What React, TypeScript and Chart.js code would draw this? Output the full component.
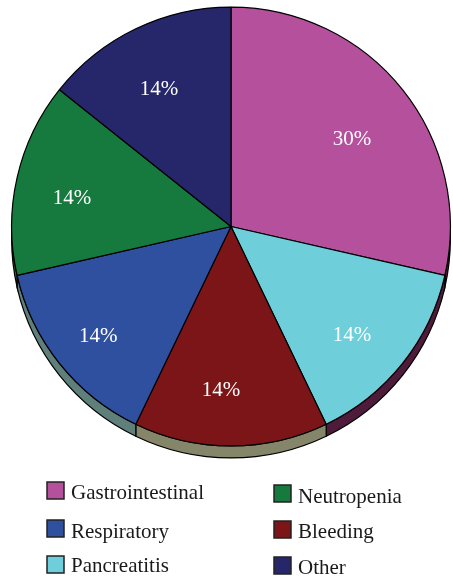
import React, { useEffect, useRef } from "react";
import { Chart, registerables } from "chart.js";

Chart.register(...registerables);

// Slice order, clockwise from 12 o'clock
const categories = ["Gastrointestinal", "Pancreatitis", "Bleeding", "Respiratory", "Neutropenia", "Other"];
// Relative slice sizes (as measured from the slice angles in the picture)
const values = [6, 3, 3, 3, 3, 3];
// Percent labels printed on the slices
const percentLabels = ["30%", "14%", "14%", "14%", "14%", "14%"];

const colors = ["#b5509c", "#6ecfdb", "#7c1517", "#2f4f9f", "#167a3f", "#26266b"];
const sideColors = ["#4f1b3b", "#4f1b3b", "#85856a", "#5f7f7b", "#3b5b3b", "#1c1c44"];
// Label placement: distance from centre as fraction of radius, angular nudge (deg) from slice middle
const labelRadius = [0.682, 0.737, 0.742, 0.781, 0.738, 0.71];
const labelAngleNudge = [2.5, 3.0, 3.5, -0.7, -2.2, -1.8];

// Legend layout: [category index, box x, box y, text x, baseline y]
const legendItems: [number, number, number, number, number][] = [
  [0, 47, 482, 71, 499],
  [3, 47, 520, 71, 538],
  [1, 47, 556, 71, 572],
  [4, 274, 485, 298, 503],
  [2, 274, 521, 298, 538],
  [5, 274, 557, 298, 574],
];

const DEPTH = 12;
const SERIF = "'Liberation Serif', 'DejaVu Serif', serif";

const extrudePlugin = {
  id: "extrude",
  beforeDatasetsDraw(chart: any) {
    const ctx = chart.ctx;
    const meta = chart.getDatasetMeta(0);
    meta.data.forEach((arc: any, i: number) => {
      const { x, y, startAngle, endAngle, outerRadius } = arc.getProps(
        ["x", "y", "startAngle", "endAngle", "outerRadius"],
        true
      );
      const norm = (a: number) => {
        let v = a % (Math.PI * 2);
        if (v < -1e-9) v += Math.PI * 2;
        return v;
      };
      const s = norm(startAngle);
      const e = s + (endAngle - startAngle);
      const segs: [number, number][] = [];
      for (const shift of [0, -Math.PI * 2]) {
        const a0 = Math.max(s + shift, 0);
        const a1 = Math.min(e + shift, Math.PI);
        if (a1 > a0) segs.push([a0, a1]);
      }
      segs.forEach(([a0, a1]) => {
        const r = outerRadius;
        ctx.save();
        ctx.beginPath();
        ctx.arc(x, y, r, a0, a1);
        ctx.lineTo(x + r * Math.cos(a1), y + DEPTH + r * Math.sin(a1));
        ctx.arc(x, y + DEPTH, r, a1, a0, true);
        ctx.closePath();
        ctx.fillStyle = sideColors[i];
        ctx.fill();
        ctx.lineWidth = 1.2;
        ctx.strokeStyle = "#000";
        ctx.stroke();
        ctx.restore();
      });
    });
  },
  afterDatasetsDraw(chart: any) {
    const ctx = chart.ctx;
    const meta = chart.getDatasetMeta(0);
    ctx.save();
    ctx.fillStyle = "#ffffff";
    ctx.font = `21px ${SERIF}`;
    ctx.textAlign = "center";
    ctx.textBaseline = "alphabetic";
    meta.data.forEach((arc: any, i: number) => {
      const { x, y, startAngle, endAngle, outerRadius } = arc.getProps(
        ["x", "y", "startAngle", "endAngle", "outerRadius"],
        true
      );
      const mid = (startAngle + endAngle) / 2 + (labelAngleNudge[i] * Math.PI) / 180;
      const rr = outerRadius * labelRadius[i];
      ctx.fillText(percentLabels[i], x + rr * Math.cos(mid), y + rr * Math.sin(mid) + 7);
    });
    ctx.restore();
  },
  afterDraw(chart: any) {
    const ctx = chart.ctx;
    ctx.save();
    ctx.font = `21px ${SERIF}`;
    ctx.textAlign = "left";
    ctx.textBaseline = "alphabetic";
    legendItems.forEach(([idx, bx, by, tx, ty]) => {
      ctx.fillStyle = colors[idx];
      ctx.fillRect(bx, by, 17, 17);
      ctx.lineWidth = 1.5;
      ctx.strokeStyle = "#222";
      ctx.strokeRect(bx, by, 17, 17);
      ctx.fillStyle = "#1a1a1a";
      ctx.fillText(categories[idx], tx, ty);
    });
    ctx.restore();
  },
};

export default function App() {
  const ref = useRef<HTMLCanvasElement | null>(null);
  useEffect(() => {
    if (!ref.current) return;
    const chart = new Chart(ref.current, {
      type: "pie",
      data: {
        labels: categories,
        datasets: [
          {
            data: values,
            backgroundColor: colors,
            borderColor: "#000000",
            borderWidth: 1.2,
            hoverOffset: 0,
          },
        ],
      },
      options: {
        responsive: false,
        animation: false,
        devicePixelRatio: 1,
        layout: { padding: { left: 11, right: 2, top: 6, bottom: 132 } },
        plugins: {
          legend: { display: false },
          tooltip: { enabled: false },
        },
      },
      plugins: [extrudePlugin],
    });
    return () => chart.destroy();
  }, []);
  return (
    <div style={{ position: "absolute", left: 0, top: 0, width: 453, height: 579, background: "#fff" }}>
      <canvas ref={ref} width={453} height={579} style={{ display: "block" }} />
    </div>
  );
}
